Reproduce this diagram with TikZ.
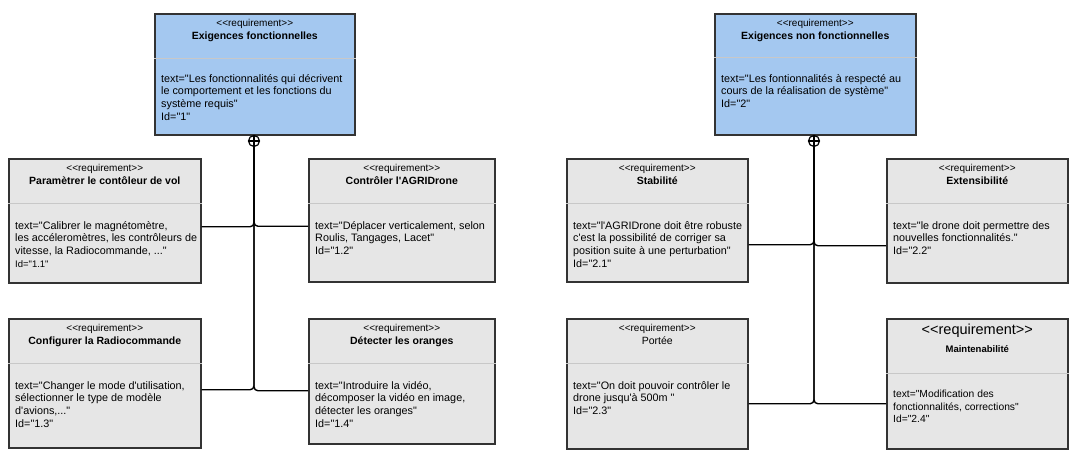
\documentclass[tikz,border=0pt]{standalone}
\usepackage{fontspec}
\setmainfont{Liberation Sans}[Ligatures=TeXOff]
\usetikzlibrary{positioning}

\definecolor{reqblue}{RGB}{164,200,240}
\definecolor{reqgray}{RGB}{230,230,230}
\definecolor{reqborder}{RGB}{51,51,51}
\definecolor{reqsep}{RGB}{200,200,200}

\tikzset{
    req/.style={rectangle, draw=reqborder, line width=1.6pt, inner sep=0pt, anchor=north west},
    stereo/.style={font=\fontsize{10}{12}\selectfont, inner sep=0pt},
    reqtitle/.style={font=\fontsize{10.5}{12}\selectfont\bfseries, inner sep=0pt},
    reqbody/.style={font=\fontsize{10.8}{12.7}\selectfont, align=left, inner sep=0pt},
    sepline/.style={draw=reqsep, line width=0.6pt},
    contain/.style={circle, draw, line width=1.2pt, minimum size=11pt, inner sep=0pt},
    link/.style={line width=1.4pt, rounded corners=4pt},
}

\begin{document}
\begin{tikzpicture}[x=1pt, y=-1pt]
        \useasboundingbox[fill=white] (0,0) rectangle (1077,454);
        % parent requirements
        \node [req,fill=reqblue,minimum width=200pt,minimum height=121pt] (r1) at (154,13) {};
        \node [stereo] (r1s) [below=6pt of r1.north] {<<requirement>>};
        \node [reqtitle] (r1t) [below=3pt of r1s] {Exigences fonctionnelles};
        \draw [sepline] ([yshift=-45pt]r1.north west) -- ([yshift=-45pt]r1.north east);
        \node [reqbody] (r1b) [below right=61pt and 7pt of r1.north west] {text="Les fonctionnalités qui décrivent\\le comportement et les fonctions du\\système requis"\\Id="1"};

        \node [req,fill=reqblue,minimum width=201pt,minimum height=121pt] (r2) at (714,13) {};
        \node [stereo] (r2s) [below=6pt of r2.north] {<<requirement>>};
        \node [reqtitle] (r2t) [below=3pt of r2s] {Exigences non fonctionnelles};
        \draw [sepline] ([yshift=-44pt]r2.north west) -- ([yshift=-44pt]r2.north east);
        \node [reqbody] (r2b) [below right=61pt and 7pt of r2.north west] {text="Les fontionnalités à respecté au\\cours de la réalisation de système"\\Id="2"};

        % functional requirements
        \node [req,fill=reqgray,minimum width=192pt,minimum height=124pt] (r11) at (8,158) {};
        \node [stereo] (r11s) [below=6pt of r11.north] {<<requirement>>};
        \node [reqtitle] (r11t) [below=3pt of r11s] {Paramètrer le contôleur de vol};
        \draw [sepline] ([yshift=-45pt]r11.north west) -- ([yshift=-45pt]r11.north east);
        \node [reqbody] (r11b) [below right=63pt and 7pt of r11.north west] {text="Calibrer le magnétomètre,\\les accéleromètres, les contrôleurs de\\vitesse, la Radiocommande, ..."\\{\fontsize{9.5}{12}\selectfont Id="1.1"}};

        \node [req,fill=reqgray,minimum width=186pt,minimum height=123pt] (r12) at (308,158) {};
        \node [stereo] (r12s) [below=6pt of r12.north] {<<requirement>>};
        \node [reqtitle] (r12t) [below=3pt of r12s] {Contrôler l'AGRIDrone};
        \draw [sepline] ([yshift=-45pt]r12.north west) -- ([yshift=-45pt]r12.north east);
        \node [reqbody] (r12b) [below right=63pt and 7pt of r12.north west] {text="Déplacer verticalement, selon\\Roulis, Tangages, Lacet"\\Id="1.2"};

        \node [req,fill=reqgray,minimum width=192pt,minimum height=129pt] (r13) at (8,318) {};
        \node [stereo] (r13s) [below=6pt of r13.north] {<<requirement>>};
        \node [reqtitle] (r13t) [below=3pt of r13s] {Configurer la Radiocommande};
        \draw [sepline] ([yshift=-45pt]r13.north west) -- ([yshift=-45pt]r13.north east);
        \node [reqbody] (r13b) [below right=63pt and 7pt of r13.north west] {text="Changer le mode d'utilisation,\\sélectionner le type de modèle\\d'avions,..."\\Id="1.3"};

        \node [req,fill=reqgray,minimum width=186pt,minimum height=125pt] (r14) at (308,318) {};
        \node [stereo] (r14s) [below=6pt of r14.north] {<<requirement>>};
        \node [reqtitle] (r14t) [below=3pt of r14s] {Détecter les oranges};
        \draw [sepline] ([yshift=-45pt]r14.north west) -- ([yshift=-45pt]r14.north east);
        \node [reqbody] (r14b) [below right=63pt and 7pt of r14.north west] {text="Introduire la vidéo,\\décomposer la vidéo en image,\\détecter les oranges"\\Id="1.4"};

        % non functional requirements
        \node [req,fill=reqgray,minimum width=181pt,minimum height=123pt] (r21) at (566,158) {};
        \node [stereo] (r21s) [below=6pt of r21.north] {<<requirement>>};
        \node [reqtitle] (r21t) [below=3pt of r21s] {Stabilité};
        \draw [sepline] ([yshift=-45pt]r21.north west) -- ([yshift=-45pt]r21.north east);
        \node [reqbody] (r21b) [below right=63pt and 7pt of r21.north west] {text="l'AGRIDrone doit être robuste\\c'est la possibilité de corriger sa\\position suite à une perturbation"\\Id="2.1"};

        \node [req,fill=reqgray,minimum width=181pt,minimum height=124pt] (r22) at (886,158) {};
        \node [stereo] (r22s) [below=6pt of r22.north] {<<requirement>>};
        \node [reqtitle] (r22t) [below=3pt of r22s] {Extensibilité};
        \draw [sepline] ([yshift=-45pt]r22.north west) -- ([yshift=-45pt]r22.north east);
        \node [reqbody] (r22b) [below right=63pt and 7pt of r22.north west] {text="le drone doit permettre des\\nouvelles fonctionnalités."\\Id="2.2"};

        \node [req,fill=reqgray,minimum width=181pt,minimum height=130pt] (r23) at (566,318) {};
        \node [stereo] (r23s) [below=6pt of r23.north] {<<requirement>>};
        \node [reqtitle,font=\fontsize{10.5}{12}\selectfont] (r23t) [below=3pt of r23s] {Portée};
        \draw [sepline] ([yshift=-45pt]r23.north west) -- ([yshift=-45pt]r23.north east);
        \node [reqbody] (r23b) [below right=63pt and 7pt of r23.north west] {text="On doit pouvoir contrôler le\\drone jusqu'à 500m "\\Id="2.3"};

        \node [req,fill=reqgray,minimum width=181pt,minimum height=130pt] (r24) at (886,318) {};
        \node [stereo,font=\fontsize{14.5}{16}\selectfont] (r24s) [below=6pt of r24.north] {<<requirement>>};
        \node [reqtitle,font=\fontsize{9.5}{12}\selectfont\bfseries] (r24t) [below=7pt of r24s] {Maintenabilité};
        \draw [sepline] ([yshift=-55pt]r24.north west) -- ([yshift=-55pt]r24.north east);
        \node [reqbody,font=\fontsize{10.3}{12.5}\selectfont] (r24b) [below right=72pt and 7pt of r24.north west] {text="Modification des\\fonctionnalités, corrections"\\Id="2.4"};

        % containment markers
        \node [contain] (o1) at (254,141) {};
        \node [contain] (o2) at (814,141) {};
        \draw [line width=1.2pt] (o1.north) -- (o1.south) (o1.west) -- (o1.east);
        \draw [line width=1.2pt] (o2.north) -- (o2.south) (o2.west) -- (o2.east);

        % containment links
        \draw [link] ([yshift=-6pt]r11.east) -| (o1.south);
        \draw [link] ([yshift=-6pt]r12.west) -| (o1.south);
        \draw [link] ([yshift=-6.5pt]r13.east) -| (o1.south);
        \draw [link] ([yshift=-9.5pt]r14.west) -| (o1.south);
        \draw [link] ([yshift=-24.5pt]r21.east) -| (o2.south);
        \draw [link] ([yshift=-25pt]r22.west) -| (o2.south);
        \draw [link] ([yshift=-20pt]r23.east) -| (o2.south);
        \draw [link] ([yshift=-20pt]r24.west) -| (o2.south);
    \end{tikzpicture}
\end{document}
